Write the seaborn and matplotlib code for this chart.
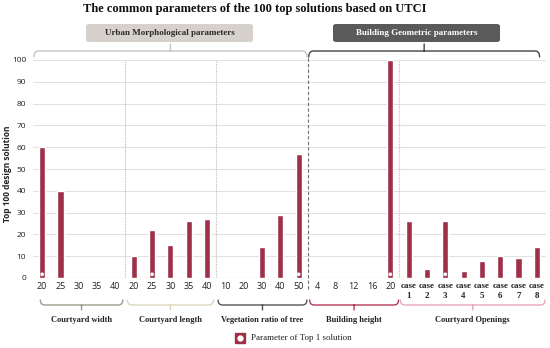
import matplotlib
matplotlib.use('Agg')
import matplotlib.pyplot as plt
import numpy as np
import pandas as pd
import seaborn as sns
from matplotlib.path import Path
from matplotlib.patches import PathPatch, FancyBboxPatch
from matplotlib.transforms import blended_transform_factory

# data
groups = ['Courtyard width', 'Courtyard length', 'Vegetation ratio of tree',
          'Building height', 'Courtyard Openings']
width_labels = ['20', '25', '30', '35', '40']
width_vals = [60, 40, 0, 0, 0]
length_labels = ['20', '25', '30', '35', '40']
length_vals = [10, 22, 15, 26, 27]
veg_labels = ['10', '20', '30', '40', '50']
veg_vals = [0, 0, 14, 29, 57]
height_labels = ['4', '8', '12', '16', '20']
height_vals = [0, 0, 0, 0, 100]
open_labels = ['case\n1', 'case\n2', 'case\n3', 'case\n4', 'case\n5', 'case\n6', 'case\n7', 'case\n8']
open_vals = [26, 4, 26, 3, 8, 10, 9, 14]
top1 = {'Courtyard width': '20', 'Courtyard length': '25', 'Vegetation ratio of tree': '50',
        'Building height': '20', 'Courtyard Openings': 'case\n3'}

all_labels = [width_labels, length_labels, veg_labels, height_labels, open_labels]
all_vals = [width_vals, length_vals, veg_vals, height_vals, open_vals]

rows = []
for g, labs, vals in zip(groups, all_labels, all_vals):
    for lab, v in zip(labs, vals):
        rows.append({'group': g, 'label': lab, 'slot': g + '|' + lab, 'count': v,
                     'top1': top1[g] == lab})
df = pd.DataFrame(rows)

BAR = '#9e3048'
SERIF = 'Liberation Serif'
SANS = 'Open Sans'

sns.set_style('white')
plt.rcParams['font.family'] = ['DejaVu Sans']

fig = plt.figure(figsize=(5.5, 3.48), dpi=100)
W, H = 550.0, 348.0
ax = fig.add_axes([33 / W, (H - 278) / H, (546 - 33) / W, 218 / H])

sns.barplot(data=df, x='slot', y='count', order=df['slot'], color=BAR, width=0.33,
            saturation=1, ax=ax, zorder=3)
idx = np.flatnonzero(df['top1'].to_numpy())
ax.scatter(idx, np.full(len(idx), 1.7), s=7, facecolor='white', edgecolor='none', zorder=4)

ax.set_xlim(-0.5, len(df) - 0.5)
ax.set_ylim(0, 100)
ax.set_yticks(range(0, 101, 10))
ax.yaxis.grid(True, color='#e2e2e2', lw=0.8, zorder=0)
for s in ax.spines.values():
    s.set_visible(False)
ax.axhline(0, color='#d0d0d0', lw=0.8, zorder=1)
ax.tick_params(length=0, pad=3)
ax.tick_params(axis='y', labelsize=6, labelcolor='#222222', pad=5)
for t in ax.get_yticklabels():
    t.set_fontfamily(SANS)
ax.set_xticks(range(len(df)))
ax.set_xticklabels(df['label'])
for t in ax.get_xticklabels():
    if t.get_text().startswith('case'):
        t.set_fontfamily(SERIF)
        t.set_fontweight('bold')
        t.set_fontsize(6.5)
        t.set_linespacing(1.3)
    else:
        t.set_fontfamily(SANS)
        t.set_fontsize(6.5)
    t.set_color('#222222')
ax.set_xlabel('')
ax.set_ylabel('')
fig.text(8 / 550, (348 - 174) / 348, 'Top 100 design solution', rotation=90,
         fontfamily=SANS, fontweight='bold', fontsize=6, ha='center', va='center',
         color='#222222')

# group separators
bounds = np.cumsum([len(l) for l in all_labels])[:-1] - 0.5
for i, b in enumerate(bounds):
    if i == 2:
        ax.axvline(b, ymin=-0.05, ymax=1.02, color='#707070', lw=0.8, ls=(0, (3, 2)),
                   clip_on=False, zorder=2)
    else:
        ax.axvline(b, color='#bdbdbd', lw=0.8, ls=(0, (1, 1)), zorder=2)

tr = blended_transform_factory(ax.transData, fig.transFigure)


def fy(py):
    return (H - py) / H


def brace(x0, x1, y_end, y_line, y_tick, color, r=0.25):
    xc = (x0 + x1) / 2
    verts = [(x0, fy(y_end)), (x0, fy(y_line)), (x0 + r, fy(y_line)),
             (x1 - r, fy(y_line)), (x1, fy(y_line)), (x1, fy(y_end)),
             (xc, fy(y_line)), (xc, fy(y_tick))]
    codes = [Path.MOVETO, Path.CURVE3, Path.CURVE3, Path.LINETO, Path.CURVE3, Path.CURVE3,
             Path.MOVETO, Path.LINETO]
    fig.add_artist(PathPatch(Path(verts, codes), transform=tr, fill=False, ec=color,
                             lw=1.0, capstyle='round'))


# lower braces and group names
low_spans = [(-0.1, 4.4), (4.65, 9.35), (9.6, 14.45), (14.6, 19.45), (19.55, 27.45)]
low_colors = ['#9c9c8c', '#dcd8bc', '#555555', '#b23a58', '#e8a9b9']
for (x0, x1), c, g in zip(low_spans, low_colors, groups):
    brace(x0, x1, 300, 305, 310, c)
    fig.text(0, fy(320), g, transform=tr, fontfamily=SERIF, fontweight='bold', fontsize=6,
             ha='center', va='center', color='#222222').set_x((x0 + x1) / 2)

# upper braces and header boxes
brace(-0.45, 14.45, 57, 51, 44, '#c4c4c4')
brace(14.55, 27.15, 57, 51, 44, '#444444')
for (px0, px1), fc, tc, txt in [((86, 253), '#d6d1cb', '#2a2a2a', 'Urban Morphological parameters'),
                                ((333, 500), '#5a5a5a', 'white', 'Building Geometric parameters')]:
    fig.add_artist(FancyBboxPatch((px0 / W, fy(42)), (px1 - px0) / W, 18 / H,
                                  boxstyle='round,pad=0,rounding_size=0.006',
                                  transform=fig.transFigure, fc=fc, ec='none'))
    fig.text((px0 + px1) / 2 / W, fy(33), txt, fontfamily=SERIF, fontweight='bold',
             fontsize=6.5, ha='center', va='center', color=tc)

fig.text(255 / W, fy(9), 'The common parameters of the 100 top solutions based on UTCI',
         fontfamily=SERIF, fontweight='bold', fontsize=9, ha='center', va='center',
         color='#111111')

# legend
fig.add_artist(plt.Line2D([240 / W], [fy(338)], marker='s', ms=7, color=BAR,
                          transform=fig.transFigure))
fig.add_artist(plt.Line2D([240 / W], [fy(338)], marker='o', ms=3.5, color='white',
                          transform=fig.transFigure))
fig.text(251 / W, fy(338), 'Parameter of Top 1 solution', fontfamily=SERIF, fontsize=6.5,
         ha='left', va='center', color='#222222')

fig.savefig('out.png', dpi=100)
